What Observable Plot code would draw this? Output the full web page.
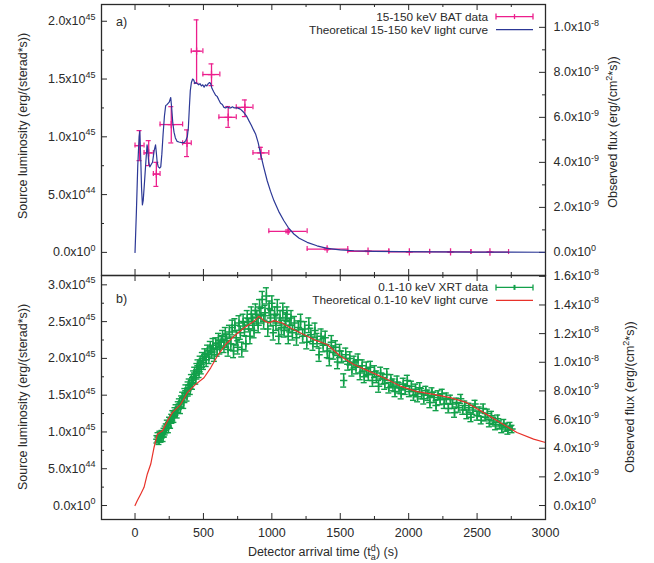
<!DOCTYPE html>
<html><head><meta charset="utf-8">
<script src="https://cdn.jsdelivr.net/npm/d3@7"></script>
<script src="https://cdn.jsdelivr.net/npm/@observablehq/plot@0.6"></script>
<style>
body{margin:0;background:#fff;}
#wrap{position:relative;width:654px;height:563px;overflow:hidden;font-family:"Liberation Sans",Arial,sans-serif;}
#wrap svg{position:absolute;left:0;overflow:visible;}
</style></head><body><div id="wrap"></div>
<script>
// ---------- DATA (luminosity in units of 1e45 erg/(sterad*s), time in s) ----------
const xMajor = [0, 500, 1000, 1500, 2000, 2500, 3000];
const xMinor = [250, 750, 1250, 1750, 2250, 2750];
const xTickLabels = ["0", "500", "1000", "1500", "2000", "2500", "3000"];

const lumMajorTop = [0, 0.5, 1.0, 1.5, 2.0];
const lumMinorTop = [0.25, 0.75, 1.25, 1.75];
const lumLabelsTop = ["0.0x10^0", "5.0x10^44", "1.0x10^45", "1.5x10^45", "2.0x10^45"];
const lumMajorBot = [0, 0.5, 1.0, 1.5, 2.0, 2.5, 3.0];
const lumMinorBot = [0.25, 0.75, 1.25, 1.75, 2.25, 2.75];
const lumLabelsBot = ["0.0x10^0", "5.0x10^44", "1.0x10^45", "1.5x10^45", "2.0x10^45", "2.5x10^45", "3.0x10^45"];

// flux (units 1e-9 erg/(cm^2*s)) per luminosity unit
const FLUX_PER_LUM = 5.135;
const fluxMajorTop = [0, 2, 4, 6, 8, 10];
const fluxMinorTop = [1, 3, 5, 7, 9];
const fluxLabelsTop = ["0.0x10^0", "2.0x10^-9", "4.0x10^-9", "6.0x10^-9", "8.0x10^-9", "1.0x10^-8"];
const fluxMajorBot = [0, 2, 4, 6, 8, 10, 12, 14, 16];
const fluxLabelsBot = ["0.0x10^0", "2.0x10^-9", "4.0x10^-9", "6.0x10^-9", "8.0x10^-9", "1.0x10^-8", "1.2x10^-8", "1.4x10^-8", "1.6x10^-8"];

// BAT 15-150 keV data
const batT   = [33, 100, 156, 265, 380, 450, 559, 681, 803, 920, 1119, 1404, 1703, 2005, 2306, 2594];
const batTlo = [0, 66, 134, 183, 348, 411, 496, 613, 740, 862, 978, 1258, 1555, 1855, 2153, 2455];
const batThi = [66, 134, 183, 348, 411, 496, 620, 740, 862, 978, 1258, 1555, 1855, 2153, 2455, 2730];
const batL   = [0.924, 0.861, 0.678, 1.106, 0.944, 1.741, 1.539, 1.169, 1.255, 0.861, 0.182, 0.029, 0.010, 0.005, 0.004, 0.003];
const batLlo = [0.794, 0.751, 0.571, 0.947, 0.829, 1.463, 1.443, 1.082, 1.175, 0.808, 0.170, 0.022, 0.007, 0.003, 0.002, 0.001];
const batLhi = [1.054, 0.967, 0.779, 1.261, 1.060, 2.012, 1.631, 1.262, 1.319, 0.909, 0.194, 0.036, 0.013, 0.007, 0.006, 0.005];

// Theoretical 15-150 keV light curve
const batCurveT = [0,10,20,30,35,42,48,54,60,70,80,88,92,100,108,118,128,140,150,156,162,170,180,188,196,205,215,224,235,250,261,268,276,285,295,308,321,340,358,372,382,390,397,404,412,421,430,437,445,455,465,475,485,495,505,515,525,535,545,553,562,575,589,600,612,625,638,650,662,675,687,699,712,725,747,770,796,815,832,850,866,881,900,918,940,966,990,1015,1050,1088,1120,1161,1200,1258,1330,1404,1500,1600,1750,1940,2200,2500,3000];
const batCurveL = [0,0.35,0.75,1.00,1.05,0.80,0.55,0.41,0.45,0.62,0.80,0.93,0.90,0.78,0.74,0.76,0.78,0.88,0.93,0.86,0.78,0.74,0.73,0.74,0.85,1.02,1.18,1.27,1.28,1.30,1.34,1.25,1.12,1.04,0.99,0.96,0.955,0.95,0.95,0.97,1.00,1.08,1.25,1.40,1.47,1.50,1.49,1.46,1.47,1.46,1.45,1.46,1.44,1.45,1.43,1.45,1.44,1.46,1.47,1.46,1.42,1.39,1.36,1.35,1.32,1.29,1.28,1.255,1.25,1.26,1.25,1.25,1.26,1.25,1.25,1.24,1.21,1.18,1.14,1.10,1.06,1.025,0.95,0.85,0.74,0.62,0.53,0.448,0.355,0.274,0.215,0.159,0.122,0.087,0.057,0.035,0.022,0.014,0.009,0.006,0.004,0.002,0.001];

// XRT 0.1-10 keV data
const xrtT = [
 160,168,175,182,190,197,205,212,220,228,
 236,244,252,260,268,276,284,292,300,308,
 316,324,332,340,348,356,364,372,380,388,
 396,404,412,420,428,436,444,452,460,468,
 476,484,492,500,510,520,530,540,550,560,
 570,580,590,600,610,620,630,640,650,660,
 670,680,690,700,710,720,730,740,750,760,
 770,780,790,800,810,820,830,840,850,860,
 870,880,890,900,910,920,930,940,950,960,
 970,980,990,1000,1010,1020,1030,1040,1050,1060,
 1070,1080,1090,1100,1110,1120,1130,1140,1150,1165,
 1180,1195,1210,1225,1240,1255,1270,1285,1300,1315,
 1330,1345,1360,1375,1390,1405,1420,1435,1450,1465,
 1480,1495,1510,1525,1540,1555,1570,1585,1600,1615,
 1630,1645,1660,1675,1690,1705,1720,1735,1750,1765,
 1780,1795,1810,1825,1840,1855,1870,1885,1900,1915,
 1930,1945,1960,1975,1990,2005,2020,2035,2050,2065,
 2080,2095,2110,2125,2140,2155,2170,2185,2200,2215,
 2230,2245,2260,2275,2290,2305,2320,2335,2350,2365,
 2380,2395,2410,2425,2440,2455,2470,2485,2500,2515,
 2530,2545,2560,2575,2590,2605,2620,2635,2650,2665,
 2680,2695,2710,2725,2740,2755];
const xrtL = [
 0.90,0.93,0.88,0.95,0.92,0.97,0.93,0.99,1.02,1.05,
 1.10,1.06,1.14,1.12,1.18,1.22,1.20,1.27,1.30,1.26,
 1.34,1.38,1.33,1.42,1.47,1.40,1.52,1.56,1.49,1.60,
 1.64,1.58,1.70,1.66,1.75,1.80,1.72,1.85,1.90,1.82,
 1.95,1.88,2.00,1.94,2.05,1.98,2.10,2.02,2.14,2.08,
 2.18,2.05,2.20,2.12,2.25,2.15,2.22,2.30,2.17,2.33,
 2.24,2.12,2.36,2.20,2.42,2.10,2.45,2.28,2.15,2.48,
 2.35,2.12,2.50,2.40,2.20,2.55,2.45,2.30,2.60,2.50,
 2.38,2.65,2.55,2.45,2.70,2.58,2.80,2.50,2.62,2.85,
 2.40,2.68,2.55,2.75,2.35,2.60,2.48,2.70,2.30,2.55,
 2.42,2.65,2.38,2.52,2.60,2.30,2.45,2.55,2.35,2.48,
 2.28,2.42,2.50,2.30,2.40,2.22,2.45,2.32,2.20,2.38,
 2.25,2.05,2.30,2.18,2.28,2.10,2.00,2.22,2.08,2.15,
 1.95,2.10,2.02,1.70,2.05,1.92,2.00,1.85,1.95,1.88,
 1.98,1.80,1.90,1.75,1.86,1.78,1.88,1.70,1.82,1.75,
 1.62,1.80,1.72,1.66,1.78,1.60,1.70,1.64,1.55,1.68,
 1.60,1.52,1.65,1.58,1.70,1.55,1.62,1.50,1.58,1.48,
 1.60,1.52,1.45,1.56,1.50,1.40,1.54,1.47,1.36,1.50,
 1.44,1.52,1.38,1.46,1.32,1.44,1.38,1.26,1.40,1.33,
 1.45,1.30,1.36,1.24,1.33,1.20,1.30,1.38,1.22,1.28,
 1.16,1.32,1.20,1.25,1.12,1.22,1.15,1.08,1.18,1.10,
 1.04,1.12,1.06,1.02,1.08,1.04];
const xrtErr = [
 0.05,0.06,0.05,0.06,0.06,0.05,0.06,0.06,0.06,0.06,
 0.06,0.07,0.06,0.07,0.06,0.07,0.07,0.06,0.07,0.07,
 0.07,0.07,0.08,0.07,0.07,0.08,0.07,0.08,0.07,0.08,
 0.08,0.07,0.08,0.08,0.08,0.08,0.07,0.08,0.08,0.08,
 0.08,0.09,0.08,0.09,0.08,0.09,0.08,0.09,0.09,0.08,
 0.09,0.09,0.08,0.09,0.09,0.09,0.09,0.08,0.09,0.09,
 0.09,0.09,0.09,0.09,0.10,0.09,0.09,0.10,0.09,0.10,
 0.09,0.10,0.10,0.09,0.10,0.10,0.09,0.10,0.10,0.10,
 0.10,0.09,0.10,0.10,0.10,0.10,0.11,0.10,0.10,0.11,
 0.10,0.10,0.11,0.10,0.10,0.10,0.10,0.10,0.10,0.10,
 0.10,0.10,0.09,0.10,0.10,0.10,0.09,0.10,0.10,0.09,
 0.10,0.09,0.10,0.09,0.10,0.09,0.10,0.09,0.09,0.10,
 0.09,0.09,0.10,0.09,0.09,0.09,0.10,0.09,0.09,0.09,
 0.09,0.09,0.08,0.09,0.09,0.08,0.09,0.09,0.08,0.09,
 0.08,0.09,0.08,0.08,0.09,0.08,0.08,0.08,0.08,0.08,
 0.08,0.08,0.07,0.08,0.08,0.07,0.08,0.08,0.07,0.08,
 0.07,0.07,0.08,0.07,0.07,0.07,0.07,0.07,0.07,0.07,
 0.07,0.07,0.07,0.06,0.07,0.07,0.06,0.07,0.07,0.06,
 0.07,0.06,0.06,0.07,0.06,0.06,0.06,0.06,0.06,0.06,
 0.06,0.06,0.06,0.06,0.06,0.06,0.06,0.05,0.06,0.06,
 0.05,0.06,0.05,0.06,0.05,0.06,0.05,0.05,0.05,0.05,
 0.05,0.05,0.05,0.05,0.05,0.05];

// Theoretical 0.1-10 keV light curve
const xrtCurveT = [0,17,42,66,90,115,139,163,200,237,273,334,382,443,504,553,601,662,723,796,869,905,942,978,1015,1076,1137,1210,1307,1404,1502,1599,1696,1818,1939,2061,2183,2304,2426,2548,2669,2791,2913,3000];
const xrtCurveL = [0,0.068,0.158,0.248,0.429,0.564,0.789,0.97,1.015,1.151,1.263,1.376,1.534,1.647,1.737,1.872,2.03,2.189,2.301,2.414,2.504,2.572,2.513,2.481,2.513,2.481,2.414,2.346,2.256,2.189,2.03,1.918,1.837,1.737,1.624,1.548,1.512,1.466,1.398,1.263,1.128,0.992,0.902,0.857];

// ---------- STYLE ----------
const W = 654, ML = 101, MR = 109, PW = W - ML - MR;
const xDomain = [-245, 3000];
const INK = "#2a2a2a";
const PINK = "#ec1e8c", BLUE = "#2c3896", GREEN = "#12a04a", RED = "#e8322a";
const FONT = "'Liberation Sans', Arial, Helvetica, sans-serif";
const TK = {stroke: INK, strokeWidth: 1};

function xTicks(ph) {
  return [
    Plot.tickX(xMajor, {x: d => d, insetTop: ph - 6, ...TK}),
    Plot.tickX(xMajor, {x: d => d, insetBottom: ph - 6, ...TK}),
    Plot.tickX(xMinor, {x: d => d, insetTop: ph - 3, ...TK}),
    Plot.tickX(xMinor, {x: d => d, insetBottom: ph - 3, ...TK})
  ];
}
function yTicksLeft(major, minor) {
  return [
    Plot.tickY(major, {y: d => d, insetRight: PW - 6, ...TK}),
    Plot.tickY(minor, {y: d => d, insetRight: PW - 3, ...TK})
  ];
}
function yTicksRight(major, minor) {
  const m = [Plot.tickY(major.map(f => f / FLUX_PER_LUM), {y: d => d, insetLeft: PW - 6, ...TK})];
  if (minor) m.push(Plot.tickY(minor.map(f => f / FLUX_PER_LUM), {y: d => d, insetLeft: PW - 3, ...TK}));
  return m;
}
function leftAxis(major, labels) {
  return Plot.axisY({anchor: "left", ticks: major, tickFormat: d => labels[major.indexOf(d)], tickSize: 0, tickPadding: 6, label: null, fill: INK});
}
function rightAxis(major, labels) {
  const pos = major.map(f => f / FLUX_PER_LUM);
  return Plot.axisY({anchor: "right", ticks: pos, tickFormat: d => labels[pos.indexOf(d)], tickSize: 0, tickPadding: 8, label: null, fill: INK});
}

// ---------- TOP PANEL ----------
const bat = batT.map((t, i) => ({t, tlo: batTlo[i], thi: batThi[i], L: batL[i], lo: batLlo[i], hi: batLhi[i]}));
const batCurve = batCurveT.map((t, i) => ({t, L: batCurveL[i]}));
const topH = 276, topMT = 4, topMB = 1, topPH = topH - topMT - topMB;
const CAP = -2.5, GCAP = -3;

const topPlot = Plot.plot({
  width: W, height: topH, marginLeft: ML, marginRight: MR, marginTop: topMT, marginBottom: topMB,
  x: {domain: xDomain, axis: null},
  y: {domain: [-0.2, 2.145], axis: null},
  style: {fontFamily: FONT, fontSize: "12.5px", color: INK, background: "transparent"},
  marks: [
    ...xTicks(topPH),
    ...yTicksLeft(lumMajorTop, lumMinorTop),
    ...yTicksRight(fluxMajorTop, fluxMinorTop),
    leftAxis(lumMajorTop, lumLabelsTop),
    rightAxis(fluxMajorTop, fluxLabelsTop),
    // BAT error bars
    Plot.ruleY(bat, {y: "L", x1: "tlo", x2: "thi", stroke: PINK, strokeWidth: 1.3}),
    Plot.ruleX(bat, {x: "t", y1: "lo", y2: "hi", stroke: PINK, strokeWidth: 1.3}),
    Plot.ruleX(bat, {x: "tlo", y1: "L", y2: "L", insetTop: CAP, insetBottom: CAP, stroke: PINK, strokeWidth: 1.2}),
    Plot.ruleX(bat, {x: "thi", y1: "L", y2: "L", insetTop: CAP, insetBottom: CAP, stroke: PINK, strokeWidth: 1.2}),
    Plot.ruleY(bat, {y: "lo", x1: "t", x2: "t", insetLeft: CAP, insetRight: CAP, stroke: PINK, strokeWidth: 1.2}),
    Plot.ruleY(bat, {y: "hi", x1: "t", x2: "t", insetLeft: CAP, insetRight: CAP, stroke: PINK, strokeWidth: 1.2}),
    Plot.dot(bat, {x: "t", y: "L", symbol: "plus", r: 2.5, stroke: PINK, strokeWidth: 1.3}),
    Plot.line(batCurve, {x: "t", y: "L", stroke: BLUE, strokeWidth: 1.2}),
    Plot.frame({stroke: INK, strokeWidth: 1.3})
  ]
});
topPlot.style.top = "0px";

// ---------- BOTTOM PANEL ----------
const xrt = xrtT.map((t, i) => ({t, L: xrtL[i], lo: xrtL[i] - xrtErr[i], hi: xrtL[i] + xrtErr[i]}));
const xrtCurve = xrtCurveT.map((t, i) => ({t, L: xrtCurveL[i]}));
const botTop = 270, botH = 563 - botTop, botMT = 5, botMB = botH - (519 - botTop), botPH = botH - botMT - botMB;

const botPlot = Plot.plot({
  width: W, height: botH, marginLeft: ML, marginRight: MR, marginTop: botMT, marginBottom: botMB,
  x: {domain: xDomain},
  y: {domain: [-0.19, 3.127], axis: null},
  style: {fontFamily: FONT, fontSize: "12.5px", color: INK, background: "transparent"},
  marks: [
    ...xTicks(botPH),
    ...yTicksLeft(lumMajorBot, lumMinorBot),
    ...yTicksRight(fluxMajorBot, null),
    leftAxis(lumMajorBot, lumLabelsBot),
    rightAxis(fluxMajorBot, fluxLabelsBot),
    Plot.axisX({anchor: "bottom", ticks: xMajor, tickFormat: d => xTickLabels[xMajor.indexOf(d)], tickSize: 0, tickPadding: 9, label: null, fill: INK}),
    Plot.ruleX(xrt, {x: "t", y1: "lo", y2: "hi", stroke: GREEN, strokeWidth: 1.5}),
    Plot.ruleY(xrt, {y: "lo", x1: "t", x2: "t", insetLeft: GCAP, insetRight: GCAP, stroke: GREEN, strokeWidth: 1.4}),
    Plot.ruleY(xrt, {y: "hi", x1: "t", x2: "t", insetLeft: GCAP, insetRight: GCAP, stroke: GREEN, strokeWidth: 1.4}),
    Plot.dot(xrt, {x: "t", y: "L", symbol: "plus", r: 2.5, stroke: GREEN, strokeWidth: 1.5}),
    Plot.line(xrtCurve, {x: "t", y: "L", stroke: RED, strokeWidth: 1.2}),
    Plot.frame({stroke: INK, strokeWidth: 1.3})
  ]
});
botPlot.style.top = botTop + "px";

const wrap = document.getElementById("wrap");
wrap.appendChild(botPlot);
wrap.appendChild(topPlot);

// ---------- superscripts in tick labels ----------
function supify(svg) {
  d3.select(svg).selectAll("text").each(function () {
    const s = this.textContent;
    if (!s.includes("^")) return;
    const [base, sup] = s.split("^");
    const el = d3.select(this);
    el.selectAll("*").remove();
    el.text(null);
    el.append("tspan").text(base);
    el.append("tspan").attr("dy", -5.5).attr("font-size", 9).text(sup);
  });
}
supify(topPlot); supify(botPlot);

// ---------- decorations: axis titles, legends, panel letters ----------
function addText(svg, x, y, anchor, size) {
  return d3.select(svg).append("text").attr("x", x).attr("y", y)
    .attr("text-anchor", anchor).attr("fill", INK)
    .attr("font-family", FONT).attr("font-size", size || 12.5);
}
function yTitleLeft(svg, cy) {
  addText(svg, 27, cy, "middle").attr("transform", `rotate(-90,27,${cy})`).text("Source luminosity (erg/(sterad*s))");
}
function yTitleRight(svg, x, cy) {
  const t = addText(svg, x, cy, "middle").attr("transform", `rotate(-90,${x},${cy})`);
  t.append("tspan").text("Observed flux (erg/(cm");
  t.append("tspan").attr("dy", -5).attr("font-size", 9).text("2");
  t.append("tspan").attr("dy", 5).text("*s))");
}
yTitleLeft(topPlot, 126);
yTitleRight(topPlot, 617, 132);
yTitleLeft(botPlot, 397 - botTop);
yTitleRight(botPlot, 634, 397 - botTop);

addText(topPlot, 116, 26, "start").text("a)");
addText(botPlot, 116, 303 - botTop, "start").text("b)");

function legendRow(svg, y, label, color, isData, thick) {
  addText(svg, 488, y + 4, "end", 11.8).text(label);
  const g = d3.select(svg).append("g").attr("stroke", color).attr("stroke-width", 1.3);
  g.append("line").attr("x1", 496).attr("x2", 533).attr("y1", y).attr("y2", y);
  if (isData) {
    g.append("line").attr("x1", 496).attr("x2", 496).attr("y1", y - 3).attr("y2", y + 3);
    g.append("line").attr("x1", 533).attr("x2", 533).attr("y1", y - 3).attr("y2", y + 3);
    g.append("line").attr("x1", 514.5).attr("x2", 514.5).attr("y1", y - 2.5).attr("y2", y + 2.5).attr("stroke-width", thick);
  }
}
legendRow(topPlot, 16.6, "15-150 keV BAT data", PINK, true, 1.3);
legendRow(topPlot, 29.6, "Theoretical 15-150 keV light curve", BLUE, false);
legendRow(botPlot, 287.4 - botTop, "0.1-10 keV XRT data", GREEN, true, 2);
legendRow(botPlot, 300.4 - botTop, "Theoretical 0.1-10 keV light curve", RED, false);

// x axis title
const xt = addText(botPlot, 323, 556 - botTop, "middle");
xt.append("tspan").text("Detector arrival time (t");
xt.append("tspan").attr("dy", -5).attr("font-size", 9).text("d");
xt.append("tspan").attr("dx", -5).attr("dy", 9).attr("font-size", 9).text("a");
xt.append("tspan").attr("dy", -4).text(") (s)");
</script>
</body></html>
